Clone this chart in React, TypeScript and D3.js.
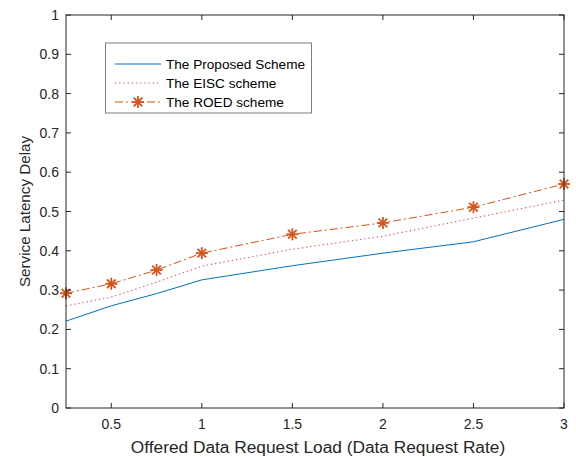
import React from "react";
import * as d3 from "d3";

const xValues = [0.25, 0.5, 0.75, 1, 1.5, 2, 2.5, 3];
const proposed = [0.221, 0.26, 0.291, 0.326, 0.362, 0.394, 0.423, 0.48];
const eisc = [0.26, 0.282, 0.32, 0.361, 0.404, 0.437, 0.483, 0.529];
const roed = [0.292, 0.316, 0.351, 0.394, 0.442, 0.471, 0.511, 0.57];
const xTicks = [0.5, 1, 1.5, 2, 2.5, 3];
const yTicks = [0, 0.1, 0.2, 0.3, 0.4, 0.5, 0.6, 0.7, 0.8, 0.9, 1];
const legendLabels = ["The Proposed Scheme", "The EISC scheme", "The ROED scheme"];

const W = 576, H = 457;
const left = 66, right = 564, top = 15, bottom = 408;
const axisColor = "#262626";
const font = "Liberation Sans, Arial, sans-serif";

function Star({ x, y, color }: { x: number; y: number; color: string }) {
  const r = 6;
  const d = r * 0.72;
  return (
    <g stroke={color} strokeWidth={1.8} fill="none">
      <line x1={x - r} y1={y} x2={x + r} y2={y} />
      <line x1={x} y1={y - r} x2={x} y2={y + r} />
      <line x1={x - d} y1={y - d} x2={x + d} y2={y + d} />
      <line x1={x - d} y1={y + d} x2={x + d} y2={y - d} />
    </g>
  );
}

export default function App() {
  const xs = d3.scaleLinear().domain([0.25, 3]).range([left, right]);
  const ys = d3.scaleLinear().domain([0, 1]).range([bottom, top]);
  const line = (vals: number[]) =>
    d3.line<number>().x((_, i) => xs(xValues[i])).y((v) => ys(v))(vals) || "";

  const blue = "#0072BD";
  const red = "#FF3B3B";
  const orange = "#D95319";

  const lx1 = 115, lx2 = 161, ltx = 166;
  const rows = [64, 83, 102];

  return (
    <svg width={W} height={H} style={{ position: "absolute", left: 0, top: 0, background: "#fff" }}>
      <rect x={0} y={0} width={W} height={H} fill="#fff" />
      {/* data */}
      <path d={line(proposed)} fill="none" stroke={blue} strokeWidth={1} />
      <path d={line(eisc)} fill="none" stroke={red} strokeWidth={1.1} strokeDasharray="1.2,3" />
      <path d={line(roed)} fill="none" stroke={orange} strokeWidth={1} strokeDasharray="8,3,2,3" />
      {roed.map((v, i) => (
        <Star key={i} x={xs(xValues[i])} y={ys(v)} color={orange} />
      ))}
      {/* axes box */}
      <rect x={left} y={top} width={right - left} height={bottom - top} fill="none" stroke={axisColor} strokeWidth={1} />
      {xTicks.map((t) => (
        <g key={"x" + t}>
          <line x1={xs(t)} x2={xs(t)} y1={bottom} y2={bottom - 5} stroke={axisColor} />
          <line x1={xs(t)} x2={xs(t)} y1={top} y2={top + 5} stroke={axisColor} />
          <text x={xs(t)} y={bottom + 21} textAnchor="middle" fontSize={14} fontFamily={font} fill={axisColor}>
            {String(t)}
          </text>
        </g>
      ))}
      {yTicks.map((t) => (
        <g key={"y" + t}>
          <line x1={left} x2={left + 5} y1={ys(t)} y2={ys(t)} stroke={axisColor} />
          <line x1={right} x2={right - 5} y1={ys(t)} y2={ys(t)} stroke={axisColor} />
          <text x={left - 7} y={ys(t) + 5} textAnchor="end" fontSize={14} fontFamily={font} fill={axisColor}>
            {String(t)}
          </text>
        </g>
      ))}
      <text x={318} y={453} textAnchor="middle" fontSize={17.3} fontFamily={font} fill={axisColor}>
        Offered Data Request Load (Data Request Rate)
      </text>
      <text
        transform={`translate(30, ${(top + bottom) / 2}) rotate(-90)`}
        textAnchor="middle"
        fontSize={15.2}
        fontFamily={font}
        fill={axisColor}
      >
        Service Latency Delay
      </text>
      {/* legend */}
      <rect x={105.5} y={43} width={206} height={70} fill="#fff" stroke="#262626" strokeOpacity={0.6} strokeWidth={1} />
      <line x1={lx1} x2={lx2} y1={rows[0]} y2={rows[0]} stroke={blue} />
      <line x1={lx1} x2={lx2} y1={rows[1]} y2={rows[1]} stroke={red} strokeWidth={1.1} strokeDasharray="1.2,3" />
      <line x1={lx1} x2={lx2} y1={rows[2]} y2={rows[2]} stroke={orange} strokeDasharray="8,3,2,3" />
      <Star x={(lx1 + lx2) / 2} y={rows[2]} color={orange} />
      {legendLabels.map((l, i) => (
        <text key={l} x={ltx} y={rows[i] + 5} fontSize={13.6} fontFamily={font} fill="#000">
          {l}
        </text>
      ))}
    </svg>
  );
}
